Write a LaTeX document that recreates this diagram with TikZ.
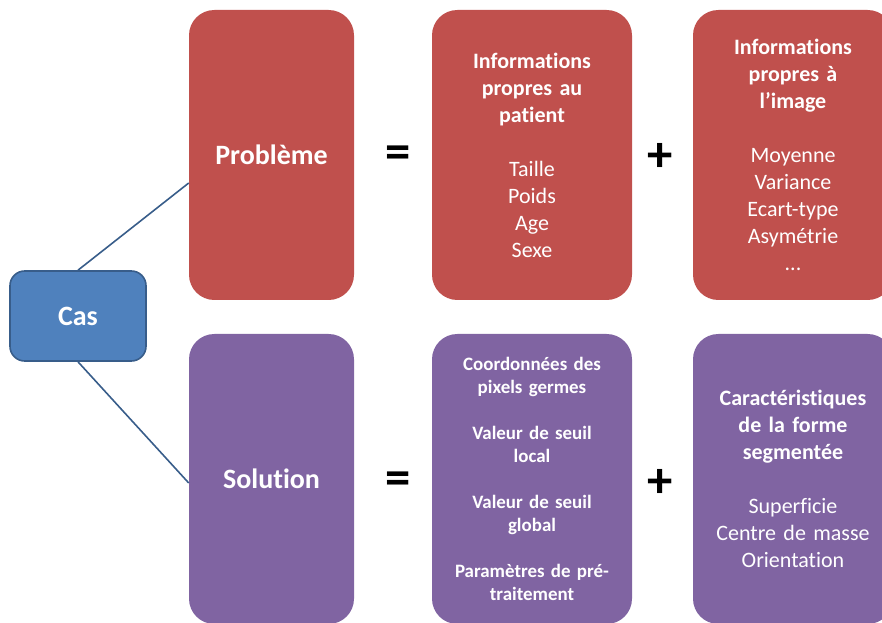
\documentclass[tikz,border=0pt]{standalone}
\usepackage{fontspec}
\setmainfont{Carlito}[Ligatures=NoCommon]
\definecolor{casblue}{HTML}{4F81BD}
\definecolor{casedge}{HTML}{385D8A}
\definecolor{pbred}{HTML}{C0504D}
\definecolor{solviolet}{HTML}{8064A2}
\begin{document}
\begin{tikzpicture}[x=.75pt,y=-.75pt,
  box/.style={rectangle,rounded corners=19pt,inner sep=0pt,text=white,align=center,minimum height=217.5pt},
  head/.style={box,minimum width=123.75pt,font=\fontsize{21}{25}\selectfont\bfseries},
  info/.style={box,minimum width=150pt,text width=140pt,font=\fontsize{16.5}{20.25}\selectfont},
  op/.style={font=\fontsize{38}{40}\selectfont\bfseries},
  link/.style={draw=casedge,line width=1.2pt}]
  \useasboundingbox (0,0) rectangle (882,623);
  \clip (0,0) rectangle (882,623);
  % left node
  \node[rectangle,rounded corners=11pt,fill=casblue,draw=casedge,line width=1.2pt,
    minimum width=102pt,minimum height=67.5pt,text=white,
    font=\fontsize{21}{25}\selectfont\bfseries] (cas) at (78,316) {Cas};
  % top row
  \node[head,fill=pbred] (pb) at (271.5,155) {Problème};
  \node[info,fill=pbred] (patient) at (532,155)
    {\textbf{Informations}\\ \textbf{propres au}\\ \textbf{patient}\\[20.25pt]
     Taille\\ Poids\\ Age\\ Sexe};
  \node[info,fill=pbred] (image) at (793,155)
    {\textbf{Informations}\\ \textbf{propres à}\\ \textbf{l’image}\\[20.25pt]
     Moyenne\\ Variance\\ Ecart-type\\ Asymétrie\\ ...};
  \node[op] (eq1) at (398,157) {=};
  \node[op] (plus1) at (660,157) {+};
  % bottom row
  \node[head,fill=solviolet] (sol) at (271.5,479) {Solution};
  \node[info,fill=solviolet,font=\fontsize{14.2}{17.25}\selectfont\bfseries] (param) at (532,479)
    {Coordonnées des\\ pixels germes\\[17.25pt]
     Valeur de seuil\\ local\\[17.25pt]
     Valeur de seuil\\ global\\[17.25pt]
     Paramètres de pré-\\ traitement};
  \node[info,fill=solviolet] (forme) at (793,479)
    {\textbf{Caractéristiques}\\ \textbf{de la forme}\\ \textbf{segmentée}\\[20.25pt]
     Superficie\\ Centre de masse\\ Orientation};
  \node[op] (eq2) at (398,483) {=};
  \node[op] (plus2) at (660,483) {+};
  % links
  \draw[link] (cas.north) -- ([yshift=-21pt]pb.west);
  \draw[link] (cas.south) -- ([yshift=-3pt]sol.west);
\end{tikzpicture}
\end{document}
